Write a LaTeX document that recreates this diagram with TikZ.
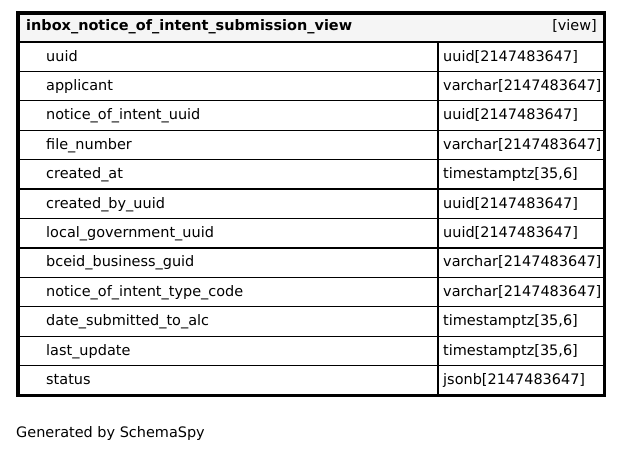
\documentclass[tikz,border=0pt]{standalone}
\usepackage{fontspec}
\setmainfont{DejaVu Sans}
\begin{document}
\begin{tikzpicture}[x=1pt,y=-1pt,
  txt/.style={inner sep=0pt, anchor=base west, font=\fontsize{14.45}{16}\selectfont},
  hdr/.style={txt, font=\fontsize{14.45}{16}\selectfont\bfseries},
  cellline/.style={draw=black, line width=1.3pt},
  frame/.style={draw=black, line width=2.7pt}]
\useasboundingbox (0,0) rectangle (623,452);

% header band
\fill[black!4] (19,14) rectangle (604,42);
\draw[cellline] (19,14) rectangle (604,42);
\node[hdr] (title) at (26,31) {inbox\_notice\_of\_intent\_submission\_view};
\node[txt, anchor=base east] (kind) at (597,31) {[view]};

% column rows
\foreach \i/\name/\type in {
  0/uuid/uuid[2147483647],
  1/applicant/varchar[2147483647],
  2/notice\_of\_intent\_uuid/uuid[2147483647],
  3/file\_number/varchar[2147483647],
  4/created\_at/{timestamptz[35,6]},
  5/created\_by\_uuid/uuid[2147483647],
  6/local\_government\_uuid/uuid[2147483647],
  7/bceid\_business\_guid/varchar[2147483647],
  8/notice\_of\_intent\_type\_code/varchar[2147483647],
  9/date\_submitted\_to\_alc/{timestamptz[35,6]},
  10/last\_update/{timestamptz[35,6]},
  11/status/jsonb[2147483647]} {
  \pgfmathsetmacro{\top}{42+29.42*\i}
  \pgfmathsetmacro{\bot}{\top+29.42}
  \pgfmathsetmacro{\base}{\top+19}
  \draw[cellline] (19,\top) rectangle (438,\bot);
  \draw[cellline] (438,\top) rectangle (604,\bot);
  \node[txt] (col\i) at (46,\base) {\name};
  \node[txt] (type\i) at (443,\base) {\type};
}

% outer frame
\draw[frame] (17.5,12.5) rectangle (605,395.5);

\node[txt] (footer) at (16,437.5) {Generated by SchemaSpy};
\end{tikzpicture}
\end{document}
